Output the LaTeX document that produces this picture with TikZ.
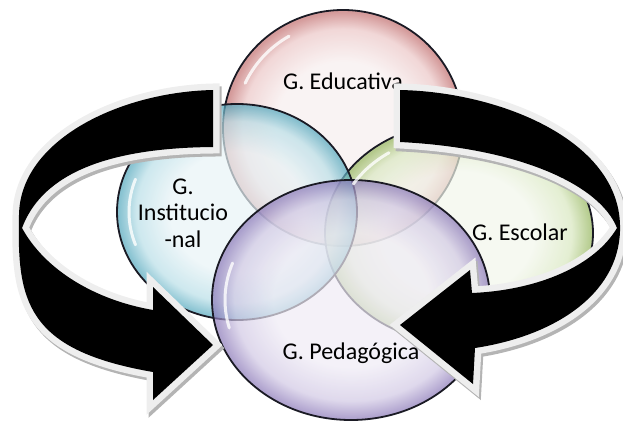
\documentclass[tikz,border=0pt]{standalone}
\usepackage{fontspec}
\setmainfont{Carlito}
\usetikzlibrary{shapes.geometric}

% bubble colours: centre, middle ring, rim
\definecolor{redin}{HTML}{F7EEEE}\definecolor{redmid}{HTML}{EBC6C6}\definecolor{redout}{HTML}{C27070}
\definecolor{cyanin}{HTML}{E8F3F6}\definecolor{cyanmid}{HTML}{B8DEE7}\definecolor{cyanout}{HTML}{56A9BE}
\definecolor{grnin}{HTML}{F2F6EB}\definecolor{grnmid}{HTML}{D8E7BF}\definecolor{grnout}{HTML}{97B760}
\definecolor{purin}{HTML}{EFEBF5}\definecolor{purmid}{HTML}{D1C8E4}\definecolor{purout}{HTML}{8E7CBA}
\definecolor{bubline}{HTML}{1A1A24}
\definecolor{arrowrim}{HTML}{EEEEEE}
\definecolor{arrowshadow}{HTML}{B4B4B4}

% the path box maps onto the inner 25bp of a radial shading
\pgfdeclareradialshading{bubred}{\pgfpoint{0bp}{0bp}}{color(0bp)=(redin); color(14bp)=(redin); color(21bp)=(redmid); color(24.6bp)=(redout); color(25bp)=(redout); color(50bp)=(redout)}
\pgfdeclareradialshading{bubcyan}{\pgfpoint{0bp}{0bp}}{color(0bp)=(cyanin); color(14bp)=(cyanin); color(21bp)=(cyanmid); color(24.6bp)=(cyanout); color(25bp)=(cyanout); color(50bp)=(cyanout)}
\pgfdeclareradialshading{bubgrn}{\pgfpoint{0bp}{0bp}}{color(0bp)=(grnin); color(14bp)=(grnin); color(21bp)=(grnmid); color(24.6bp)=(grnout); color(25bp)=(grnout); color(50bp)=(grnout)}
\pgfdeclareradialshading{bubpur}{\pgfpoint{0bp}{0bp}}{color(0bp)=(purin); color(14bp)=(purin); color(21bp)=(purmid); color(24.6bp)=(purout); color(25bp)=(purout); color(50bp)=(purout)}

\tikzset{
  bubble/.style={ellipse, inner sep=0pt, draw=bubline, line width=1.8pt,
    fill opacity=0.7, draw opacity=1},
  lbl/.style={font=\fontsize{24}{26.5}\selectfont, text=black, align=center, inner sep=0pt},
  gloss/.style={draw=white, line width=3pt, line cap=round, opacity=0.8},
  ribbon/.style={fill=black, preaction={draw=arrowrim, line width=13pt, line join=miter, miter limit=4}},
  ribbonshadow/.style={fill=arrowshadow, draw=arrowshadow, line width=13pt, line join=miter, miter limit=4}
}

\begin{document}
\begin{tikzpicture}[x=1pt, y=-1pt]
\useasboundingbox (0,0) rectangle (623,423);

% the four overlapping bubbles
\node[bubble, shading=bubred,  minimum width=240pt, minimum height=236pt] (edu)  at (343,128) {};
\node[bubble, shading=bubgrn,  minimum width=268pt, minimum height=220pt] (esc)  at (459,233) {};
\node[bubble, shading=bubcyan, minimum width=240pt, minimum height=216pt] (inst) at (237,212) {};
\node[bubble, shading=bubpur,  minimum width=278pt, minimum height=240pt] (ped)  at (351,300) {};

% glossy highlights near the upper left of each bubble
\draw[gloss] (edu.center)  ++(155:108pt and 106pt) arc[start angle=155, end angle=120, x radius=108pt, y radius=106pt];
\draw[gloss] (inst.center) ++(200:108pt and 96pt) arc[start angle=200, end angle=160, x radius=108pt, y radius=96pt];
\draw[gloss] (esc.center)  ++(150:122pt and 98pt) arc[start angle=150, end angle=125, x radius=122pt, y radius=98pt];
\draw[gloss] (ped.center)  ++(195:126pt and 108pt) arc[start angle=195, end angle=160, x radius=126pt, y radius=108pt];

% labels
\node[lbl] (tedu)  at (343,81)  {G. Educativa};
\node[lbl] (tinst) at (183,213) {G.\\Institucio\\-nal};
\node[lbl] (tesc)  at (520,232) {G. Escolar};
\node[lbl] (tped)  at (351,353) {G. Pedagógica};

% left circular arrow
\def\leftribbon{(213,90) .. controls (120,92) and (20,140) .. (19,215)
  .. controls (17,300) and (25,350) .. (153,372)
  -- (153,400) -- (213,345) -- (153,287) -- (153,310)
  .. controls (95,300) and (45,270) .. (22,228)
  .. controls (40,180) and (95,148) .. (213,147) -- cycle}
% right circular arrow
\def\rightribbon{(400,90) .. controls (500,92) and (618,140) .. (620,225)
  .. controls (622,290) and (560,335) .. (475,348)
  -- (473,384) -- (400,325) -- (470,270) -- (472,293)
  .. controls (540,290) and (595,265) .. (617,228)
  .. controls (600,185) and (520,148) .. (400,142) -- cycle}

\begin{scope}[shift={(2,3)}]
  \path[ribbonshadow] \leftribbon;
  \path[ribbonshadow] \rightribbon;
\end{scope}
\path[ribbon] \leftribbon;
\path[ribbon] \rightribbon;
\end{tikzpicture}
\end{document}
